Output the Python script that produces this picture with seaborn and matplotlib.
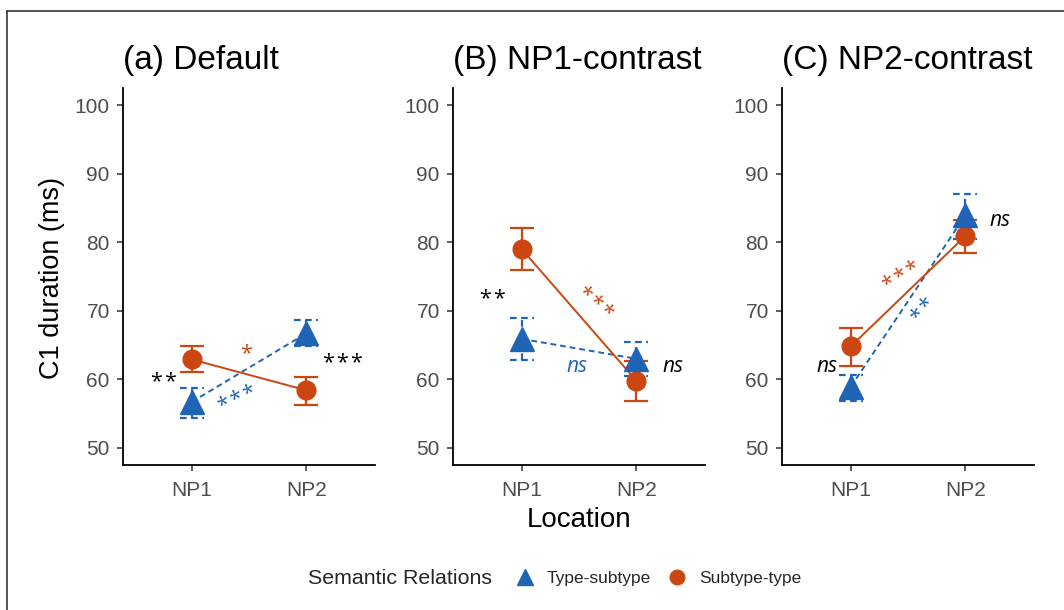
import numpy as np
import pandas as pd
import matplotlib
matplotlib.use("Agg")
import matplotlib.pyplot as plt
from matplotlib.lines import Line2D
import seaborn as sns

sns.set_style("ticks")
plt.rcParams['font.family'] = ['Liberation Sans', 'DejaVu Sans']

# ---------------- data ----------------
locations = ["NP1", "NP2"]
panels = ["(a) Default", "(B) NP1-contrast", "(C) NP2-contrast"]
relations = ["Type-subtype", "Subtype-type"]

# means, lower and upper error bounds per panel (NP1, NP2)
ts_mean = [[56.7, 66.7], [65.9, 63.0], [58.9, 83.9]]
ts_low = [[54.3, 64.8], [62.8, 60.5], [56.8, 80.4]]
ts_high = [[58.8, 68.6], [68.9, 65.4], [60.7, 87.0]]

st_mean = [[62.9, 58.4], [79.0, 59.8], [64.8, 80.9]]
st_low = [[61.1, 56.2], [76.0, 56.8], [61.9, 78.4]]
st_high = [[64.8, 60.3], [82.1, 62.7], [67.5, 83.3]]

# annotations: (panel, x, y, text, colour key, rotation)
ann_panel = [0, 0, 0, 0, 1, 1, 1, 1, 2, 2, 2, 2]
ann_x = [-0.24, 1.32, 0.47, 0.40, -0.25, 0.64, 0.48, 1.32, -0.21, 1.30, 0.45, 0.64]
ann_y = [59.6, 62.3, 63.8, 57.0, 71.6, 71.0, 61.8, 61.8, 61.9, 83.1, 74.9, 70.0]
ann_text = ["**", "***", "*", "***", "**", "***", "ns", "ns", "ns", "ns", "***", "**"]
ann_col = ["k", "k", "st", "ts", "k", "st", "ts", "k", "k", "k", "st", "ts"]
ann_rot = [0, 0, 0, 25, 0, -40, 0, 0, 0, 0, 32, 50]

y_ticks = [50, 60, 70, 80, 90, 100]

# ---------------- style ----------------
BLUE = "#1F64B5"
ORANGE = "#CC4612"
colors = {"ts": BLUE, "st": ORANGE, "k": "black"}

W, H = 1064, 610
fig = plt.figure(figsize=(W / 100, H / 100), dpi=100)

lefts = [123, 453, 782]
ax_w = 252
ax_top, ax_bot = 88, 465

for p in range(3):
    ax = fig.add_axes([lefts[p] / W, 1 - ax_bot / H, ax_w / W, (ax_bot - ax_top) / H])
    df = pd.DataFrame({
        "Location": locations * 2,
        "Relation": [relations[0]] * 2 + [relations[1]] * 2,
        "mean": ts_mean[p] + st_mean[p],
        "low": ts_low[p] + st_low[p],
        "high": ts_high[p] + st_high[p],
    })
    xpos = np.arange(len(locations))
    # error bars
    for rel, col, ls in [(relations[0], BLUE, (0, (3, 2))), (relations[1], ORANGE, "-")]:
        sub = df[df["Relation"] == rel]
        ax.vlines(xpos, sub["low"], sub["high"], colors=col, linestyles=ls, lw=1.6, zorder=2)
        for yy in (sub["low"], sub["high"]):
            ax.hlines(yy, xpos - 0.105, xpos + 0.105, colors=col, linestyles=ls, lw=1.6, zorder=2)
    # lines
    sns.lineplot(data=df, x="Location", y="mean", hue="Relation", style="Relation",
                 palette={relations[0]: BLUE, relations[1]: ORANGE},
                 dashes={relations[0]: (3, 2), relations[1]: ""},
                 markers=False, lw=1.4, legend=False, ax=ax, zorder=3, sort=False)
    # points
    sub = df[df["Relation"] == relations[1]]
    ax.plot(xpos, sub["mean"], ls="none", marker="o", ms=13.5, color=ORANGE, mec=ORANGE, zorder=4)
    sub = df[df["Relation"] == relations[0]]
    ax.plot(xpos, sub["mean"], ls="none", marker="^", ms=17, color=BLUE, mec=BLUE, zorder=5)

    ax.set_xlim(-0.6, 1.6)
    ax.set_ylim(47.5, 102.5)
    ax.set_xticks(xpos)
    ax.set_xticklabels(locations)
    ax.set_yticks(y_ticks)
    ax.set_xlabel("")
    ax.set_ylabel("")
    sns.despine(ax=ax)
    for s in ("left", "bottom"):
        ax.spines[s].set_linewidth(1.3)
        ax.spines[s].set_color("black")
    ax.tick_params(axis="both", length=4, width=1.1, color="#333333",
                   labelsize=15, labelcolor="#4D4D4D")
    ax.tick_params(axis="y", pad=5.5)
    ax.tick_params(axis="x", pad=7.5)
    ax.set_title(panels[p], loc="left", fontsize=24, pad=14, color="black")

    for i in range(len(ann_text)):
        if ann_panel[i] != p:
            continue
        t = ann_text[i]
        if t == "ns":
            ax.text(ann_x[i], ann_y[i], t, color=colors[ann_col[i]], fontsize=15,
                    fontstyle="italic", family=["Open Sans", "DejaVu Sans"],
                    ha="center", va="center", rotation=ann_rot[i], zorder=6)
        else:
            ax.text(ann_x[i], ann_y[i], "\u200a".join(t), color=colors[ann_col[i]], fontsize=15.5,
                    family=["Open Sans", "DejaVu Sans"],
                    ha="center", va="center", rotation=ann_rot[i], zorder=6,
                    rotation_mode="anchor")

fig.text(52 / W, 1 - 278 / H, "C1 duration (ms)", rotation=90, ha="center", va="center",
         fontsize=19.5, color="black")
fig.text(579 / W, 1 - 520 / H, "Location", ha="center", va="center", fontsize=20, color="black")

fig.text(308 / W, 1 - 578 / H, "Semantic Relations", ha="left", va="center", fontsize=15.4)
handles = [Line2D([], [], ls="none", marker="^", ms=12, color=BLUE),
           Line2D([], [], ls="none", marker="o", ms=10.5, color=ORANGE)]
fig.legend(handles, relations, loc="center left", bbox_to_anchor=(516 / W, 1 - 578 / H),
           ncol=2, frameon=False, fontsize=12.5, handlelength=1.0, handletextpad=0.75,
           columnspacing=1.03, borderpad=0, borderaxespad=0)

# outer frame (top and left edges visible)
fig.add_artist(Line2D([7 / W, 7 / W], [0, 1 - 10.5 / H], transform=fig.transFigure,
                      color="#333333", lw=1.2))
fig.add_artist(Line2D([7 / W, 1], [1 - 10.5 / H, 1 - 10.5 / H], transform=fig.transFigure,
                      color="#333333", lw=1.2))

fig.savefig("out.png", dpi=100, facecolor="white")
